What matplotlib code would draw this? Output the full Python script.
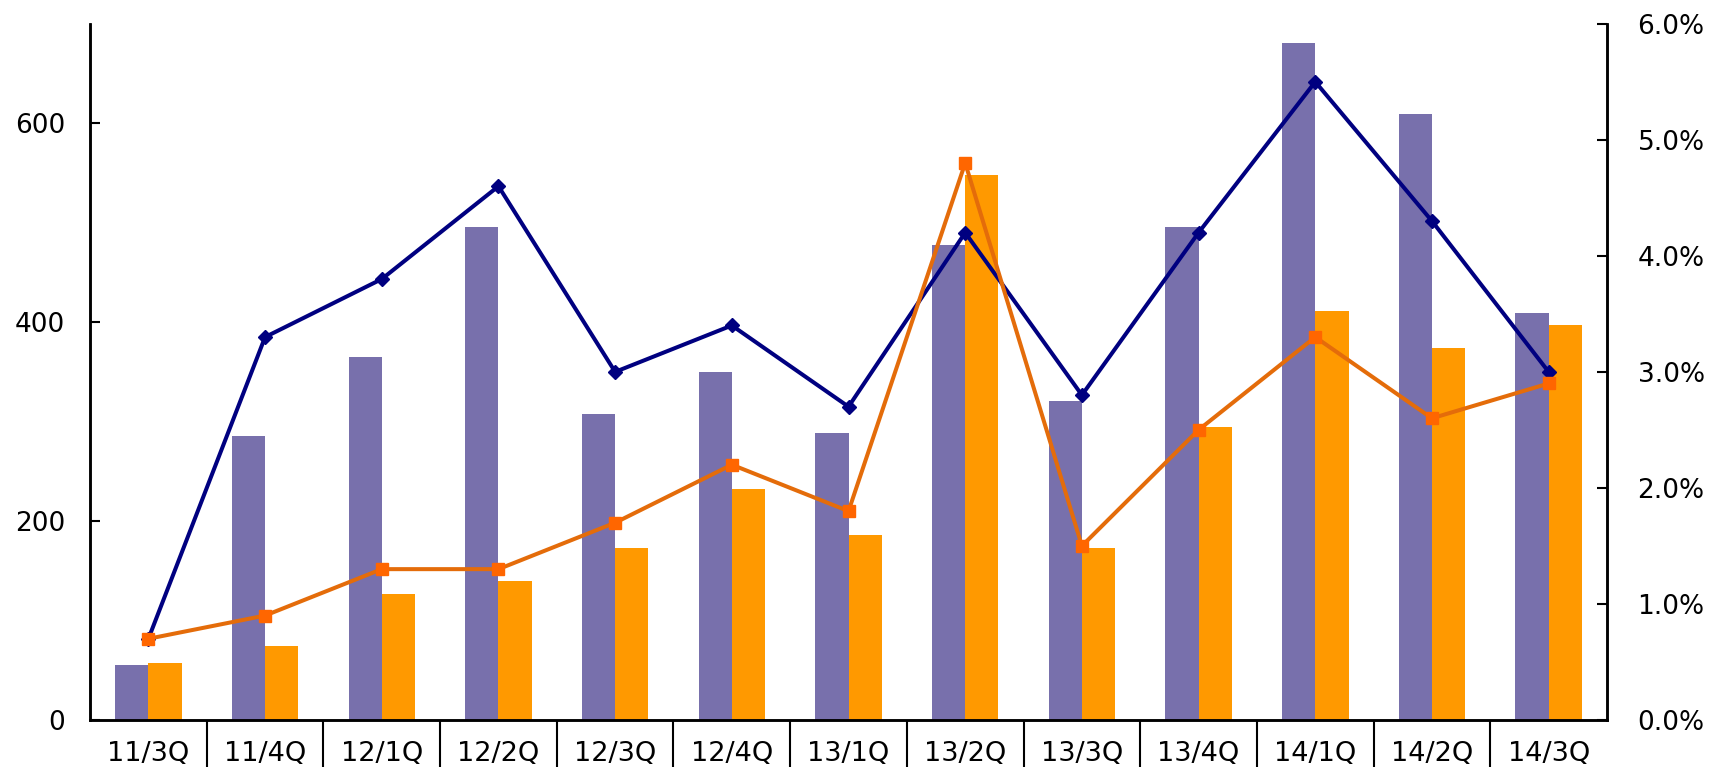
import numpy as np
import matplotlib.pyplot as plt
from matplotlib.ticker import FixedLocator, FuncFormatter

purple = '#7870ac'
orange_bar = '#ff9900'
navy = '#000080'
orange_line = '#e46c0a'
orange_mark = '#ff6600'

quarters = ['11/3Q', '11/4Q', '12/1Q', '12/2Q', '12/3Q', '12/4Q', '13/1Q',
            '13/2Q', '13/3Q', '13/4Q', '14/1Q', '14/2Q', '14/3Q']
bar_a = [55, 286, 365, 496, 308, 350, 289, 478, 321, 496, 681, 609, 409]
bar_b = [57, 74, 127, 140, 173, 232, 186, 548, 173, 295, 411, 374, 397]
rate_a = [0.7, 3.3, 3.8, 4.6, 3.0, 3.4, 2.7, 4.2, 2.8, 4.2, 5.5, 4.3, 3.0]
rate_b = [0.7, 0.9, 1.3, 1.3, 1.7, 2.2, 1.8, 4.8, 1.5, 2.5, 3.3, 2.6, 2.9]

plt.rcParams['font.family'] = ['DejaVu Sans']

fig = plt.figure(figsize=(17.09, 7.67), dpi=100)
ax = fig.add_axes([0.0527, 0.0613, 0.8876, 0.9077])
ax2 = ax.twinx()

x = np.arange(len(quarters))
w = 0.285
ax.bar(x - w / 2, bar_a, width=w, color=purple)
ax.bar(x + w / 2, bar_b, width=w, color=orange_bar)

ax2.plot(x, rate_a, color=navy, lw=2.9, marker='D', ms=7, mfc=navy, mec=navy)
ax2.plot(x, rate_b, color=orange_line, lw=2.9, marker='s', ms=9,
         mfc=orange_mark, mec=orange_mark)

ax.set_xlim(-0.5, len(quarters) - 0.5)
ax.set_ylim(0, 700)
ax2.set_ylim(0, 6)

ax.set_yticks([0, 200, 400, 600])
ax2.set_yticks(np.arange(0, 7, 1))
ax2.yaxis.set_major_formatter(FuncFormatter(lambda v, p: f'{v:.1f}%'))

# category labels between separator ticks
ax.set_xticks(x)
ax.set_xticklabels(quarters)
ax.xaxis.set_minor_locator(FixedLocator(np.arange(0.5, len(quarters) - 1, 1)))
ax.tick_params(axis='x', which='major', length=0, pad=15, labelsize=19.5)
ax.tick_params(axis='x', which='minor', length=34, width=1.5, direction='out')

ax.tick_params(axis='y', direction='in', length=7, width=1.5, pad=18, labelsize=19)
ax2.tick_params(axis='y', direction='in', length=7, width=1.5, pad=22, labelsize=19)

for a in (ax, ax2):
    a.spines['top'].set_visible(False)
    for s in ('left', 'right', 'bottom'):
        a.spines[s].set_linewidth(1.8)

fig.savefig('out.png', dpi=100)
